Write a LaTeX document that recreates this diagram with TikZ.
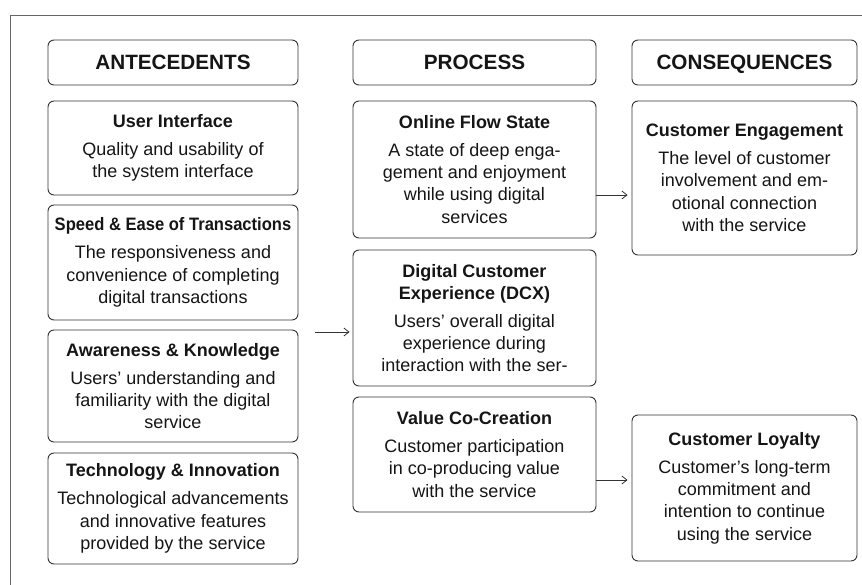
\documentclass[tikz,border=0pt]{standalone}
\usepackage{fontspec}
\setmainfont{Liberation Sans}
\usetikzlibrary{arrows.meta,positioning}

\definecolor{edge}{HTML}{333333}
\definecolor{ink}{HTML}{151515}

\tikzset{
  box/.style={draw=edge, line width=0.9pt, rounded corners=6pt, align=center,
    inner sep=0pt, text=ink},
  hdr/.style={box, minimum width=#1, minimum height=45pt,
    text height=15pt, text depth=0.5pt,
    font=\fontsize{20.7}{24}\selectfont\bfseries},
  card/.style 2 args={box, minimum width=#1, minimum height=#2,
    font=\fontsize{18}{22.3}\selectfont},
  link/.style={-{Straight Barb[length=5pt,width=8pt]}, line width=0.8pt, edge}
}
\newcommand{\ttl}[1]{{\bfseries #1}\\[5.5pt]}

\begin{document}
\begin{tikzpicture}[x=1pt,y=-1pt]
  \useasboundingbox (0,0) rectangle (862,585);
  % open frame around the figure
  \draw[line width=0.9pt, black!60] (862,15) -- (10,15) -- (10,585);

  % column headers
  \node[hdr=250pt] (hant) at (173,62.5) {ANTECEDENTS};
  \node[hdr=243pt] (hpro) at (474.5,62.5) {PROCESS};
  \node[hdr=225pt] (hcon) at (744.5,62.5) {CONSEQUENCES};

  % antecedents
  \node[card={250pt}{94pt}] (ui) at (173,148)
    {\ttl{User Interface}Quality and usability of\\the system interface};
  \node[card={250pt}{115pt}] (speed) at (173,262.5)
    {\ttl{\scalebox{0.92}[1]{Speed \& Ease of Transactions}}The responsiveness and\\convenience of completing\\digital transactions};
  \node[card={250pt}{112pt}] (aware) at (173,386)
    {\ttl{Awareness \& Knowledge}Users’ understanding and\\familiarity with the digital\\service};
  \node[card={250pt}{111pt}] (tech) at (173,508.5)
    {\ttl{Technology \& Innovation}Technological advancements\\and innovative features\\provided by the service};

  % process
  \node[card={243pt}{137pt}] (flow) at (474.5,169.5)
    {\ttl{Online Flow State}A state of deep enga-\\gement and enjoyment\\while using digital\\services};
  \node[card={243pt}{136pt}] (dcx) at (474.5,318)
    {{\bfseries Digital Customer}\\\ttl{Experience (DCX)}Users’ overall digital\\experience during\\interaction with the ser-};
  \node[card={243pt}{115pt}] (value) at (474.5,454.5)
    {\ttl{Value Co-Creation}Customer participation\\in co-producing value\\with the service};

  % consequences
  \node[card={225pt}{154pt}] (engage) at (744.5,178)
    {\ttl{Customer Engagement}The level of customer\\involvement and em-\\otional connection\\with the service};
  \node[card={225pt}{146pt}] (loyal) at (744.5,488)
    {\ttl{Customer Loyalty}Customer’s long-term\\commitment and\\intention to continue\\using the service};

  % arrows
  \coordinate (ante) at (315,332);
  \coordinate (f1) at ([yshift=-25.5pt]flow.east);
  \coordinate (v1) at ([yshift=-25.5pt]value.east);
  \draw[link, shorten >=3pt] (ante) -- (ante -| dcx.west);
  \draw[link, shorten >=4pt] (f1) -- (f1 -| engage.west);
  \draw[link, shorten >=4pt] (v1) -- (v1 -| loyal.west);
\end{tikzpicture}
\end{document}
